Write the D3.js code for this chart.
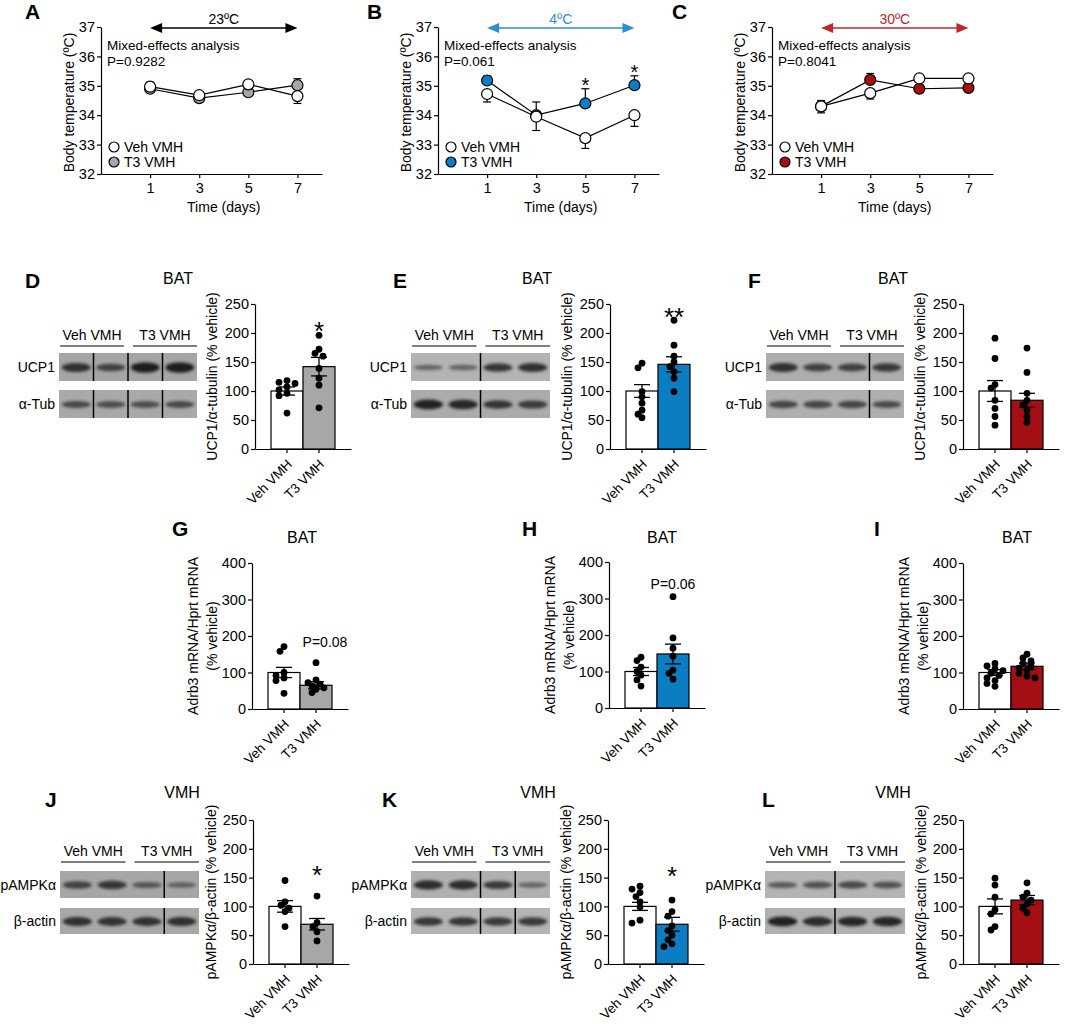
<!DOCTYPE html>
<html><head><meta charset="utf-8">
<script src="https://cdn.jsdelivr.net/npm/d3@7"></script>
<style>body{margin:0;background:#fff}svg{display:block}text{font-family:"Liberation Sans",Arial,Helvetica,sans-serif}</style>
</head><body>
<svg id="c" width="1065" height="1024"></svg>
<script>
// ---------------- DATA ----------------
const days = [1, 3, 5, 7];
const groups = ["Veh VMH", "T3 VMH"];
const tempTicks = [32, 33, 34, 35, 36, 37];
const protTicks = [0, 50, 100, 150, 200, 250];
const mrnaTicks = [0, 100, 200, 300, 400];

// Body temperature (A: 23ºC, B: 4ºC, C: 30ºC)
const vehA = [34.97, 34.68, 35.05, 34.65], vehAErr = [0.15, 0.08, 0.06, 0.25];
const t3A  = [34.90, 34.58, 34.78, 35.02], t3AErr  = [0.12, 0.06, 0.07, 0.22];
const vehB = [34.72, 33.95, 33.22, 34.00], vehBErr = [0.27, 0.47, 0.35, 0.38];
const t3B  = [35.18, 34.00, 34.40, 35.02], t3BErr  = [0.15, 0.45, 0.50, 0.32];
const vehC = [34.30, 34.75, 35.25, 35.25], vehCErr = [0.22, 0.20, 0.05, 0.05];
const t3C  = [34.30, 35.20, 34.90, 34.93], t3CErr  = [0.20, 0.22, 0.12, 0.10];

// UCP1/α-tubulin (% vehicle)
const vehD = [118, 115, 113, 107, 102, 96, 92, 62],  t3D = [196, 172, 165, 160, 139, 122, 110, 71];
const vehE = [148, 140, 99, 90, 79, 67, 60, 54],     t3E = [222, 179, 160, 150, 142, 133, 122, 99];
const vehF = [191, 156, 111, 105, 84, 70, 56, 41],   t3F = [174, 132, 96, 84, 76, 67, 56, 46];
const meanD = [100, 142], semD = [7, 16];
const meanE = [100, 146], semE = [11, 13];
const meanF = [100, 84],  semF = [18, 12];

// Adrb3 mRNA/Hprt mRNA (% vehicle)
const vehG = [171, 158, 100, 92, 85, 78, 43],        t3G = [127, 80, 72, 68, 63, 58, 54, 45];
const vehH = [139, 130, 112, 100, 90, 77, 60],       t3H = [305, 192, 164, 142, 104, 95, 79];
const vehI = [125, 118, 110, 105, 98, 92, 85, 78, 70, 62], t3I = [150, 140, 132, 125, 118, 112, 105, 98, 90, 85];
const meanG = [100, 65],  semG = [14, 10];
const meanH = [100, 148], semH = [11, 27];
const meanI = [100, 117], semI = [8, 9];

// pAMPKα/β-actin (% vehicle)
const vehJ = [145, 108, 102, 97, 91, 65],            t3J = [118, 72, 65, 56, 40];
const vehK = [135, 130, 124, 117, 108, 99, 76, 71],  t3K = [111, 91, 83, 66, 58, 50, 42, 35, 30];
const vehL = [149, 137, 116, 94, 87, 65, 59],        t3L = [141, 123, 116, 111, 104, 97, 89];
const meanJ = [100, 69],  semJ = [10, 10];
const meanK = [100, 69],  semK = [7, 12];
const meanL = [100, 111], semL = [13, 8];

// Western blot band intensities (4 lanes: Veh, Veh, T3, T3)
const bandsD_UCP1 = [0.80, 0.62, 1.00, 1.00], bandsD_Tub = [0.55, 0.50, 0.50, 0.55];
const bandsE_UCP1 = [0.30, 0.32, 0.75, 0.80], bandsE_Tub = [0.95, 0.90, 0.75, 0.70];
const bandsF_UCP1 = [0.80, 0.65, 0.65, 0.72], bandsF_Tub = [0.60, 0.60, 0.60, 0.55];
const bandsJ_AMPK = [0.62, 0.72, 0.42, 0.32], bandsJ_Act = [0.80, 0.78, 0.78, 0.80];
const bandsK_AMPK = [0.85, 0.85, 0.70, 0.30], bandsK_Act = [0.75, 0.75, 0.72, 0.72];
const bandsL_AMPK = [0.42, 0.50, 0.58, 0.50], bandsL_Act = [0.95, 0.85, 0.90, 0.90];

// ---------------- DRAWING ----------------
const FONT = '"Liberation Sans", Arial, Helvetica, sans-serif';
const GRAY = "#a7a7a9", BLUE = "#0b7dc2", RED = "#a30f12";
const TICK_FS = 14.5, LAB_FS = 14;
const svg = d3.select("#c");
const defs = svg.append("defs");
defs.append("filter").attr("id", "blur").attr("x", "-30%").attr("y", "-100%").attr("width", "160%").attr("height", "300%")
  .append("feGaussianBlur").attr("stdDeviation", 1.4);

function txt(g, x, y, s, size, o = {}) {
  const t = g.append("text").attr("x", x).attr("y", y).text(s).attr("font-size", size)
    .attr("fill", o.fill || "#000").attr("font-family", FONT);
  if (o.anchor) t.attr("text-anchor", o.anchor);
  if (o.weight) t.attr("font-weight", o.weight);
  if (o.transform) t.attr("transform", o.transform);
  return t;
}
function styleAxis(sel, fs) {
  sel.attr("font-family", FONT);
  sel.selectAll("text").attr("font-size", fs).attr("fill", "#000");
  sel.selectAll("path,line").attr("stroke", "#000").attr("stroke-width", 1.2);
}
const intFmt = d3.format("d");

function lineChart(c) {
  const g = svg.append("g");
  const x = d3.scaleLinear().domain([-1, 8]).range([c.ax, c.ax + 221]);
  const y = d3.scaleLinear().domain([32, 37]).range([174, 27]);
  g.append("g").attr("transform", `translate(${c.ax},0)`)
    .call(d3.axisLeft(y).tickValues(tempTicks).tickFormat(intFmt).tickSize(4).tickSizeOuter(0).tickPadding(2))
    .call(s => styleAxis(s, TICK_FS));
  g.append("g").attr("transform", `translate(0,${y(32)})`)
    .call(d3.axisBottom(x).tickValues(days).tickFormat(intFmt).tickSize(4).tickSizeOuter(0).tickPadding(5))
    .call(s => styleAxis(s, TICK_FS));
  txt(g, x(4), 212, "Time (days)", LAB_FS, { anchor: "middle" });
  txt(g, 0, 0, "Body temperature (ºC)", LAB_FS, { anchor: "middle", transform: `translate(${c.ax - 27},${(y(37) + y(32)) / 2 + 2}) rotate(-90)` });
  txt(g, c.letterX, 19, c.letter, 21, { weight: "bold" });
  // arrow
  const ay = 28, x1 = x(1), x7 = x(7);
  g.append("line").attr("x1", x1 + 8).attr("x2", x7 - 8).attr("y1", ay).attr("y2", ay).attr("stroke", c.color).attr("stroke-width", 1.5);
  g.append("path").attr("d", `M${x1},${ay} L${x1 + 12},${ay - 5} L${x1 + 12},${ay + 5} Z`).attr("fill", c.color);
  g.append("path").attr("d", `M${x7},${ay} L${x7 - 12},${ay - 5} L${x7 - 12},${ay + 5} Z`).attr("fill", c.color);
  txt(g, (x1 + x7) / 2, 24, c.temp, 14, { anchor: "middle", fill: c.color });
  txt(g, c.ax + 6, 50, "Mixed-effects analysis", 13.5);
  txt(g, c.ax + 6, 66, c.p, 13.5);
  // legend
  [["Veh VMH", "#fff", 147], ["T3 VMH", c.fill, 162]].forEach(([lab, f, ly]) => {
    g.append("circle").attr("cx", c.ax + 13).attr("cy", ly).attr("r", 5).attr("fill", f).attr("stroke", "#000").attr("stroke-width", 1.2);
    txt(g, c.ax + 23, ly + 5, lab, 14);
  });
  const line = d3.line().x((d, i) => x(days[i])).y(d => y(d));
  [c.t3, c.veh].forEach(s => g.append("path").attr("d", line(s)).attr("fill", "none").attr("stroke", "#000").attr("stroke-width", 1.2));
  // error bars: higher series up, lower series down
  const ser = [{ v: c.t3, e: c.t3Err, o: c.veh, f: c.fill, up: (a, b) => a >= b }, { v: c.veh, e: c.vehErr, o: c.t3, f: "#fff", up: (a, b) => a > b }];
  ser.forEach(s => s.v.forEach((v, i) => {
    const dir = s.up(v, s.o[i]) ? 1 : -1;
    const ye = y(v + dir * s.e[i]);
    g.append("line").attr("x1", x(days[i])).attr("x2", x(days[i])).attr("y1", y(v)).attr("y2", ye).attr("stroke", "#000").attr("stroke-width", 1.2);
    g.append("line").attr("x1", x(days[i]) - 4).attr("x2", x(days[i]) + 4).attr("y1", ye).attr("y2", ye).attr("stroke", "#000").attr("stroke-width", 1.2);
  }));
  ser.forEach(s => s.v.forEach((v, i) => {
    g.append("circle").attr("cx", x(days[i])).attr("cy", y(v)).attr("r", 5.5).attr("fill", s.f).attr("stroke", "#000").attr("stroke-width", 1.2);
  }));
  (c.stars || []).forEach(i => {
    txt(g, x(days[i]), y(c.t3[i] + c.t3Err[i]) + 3, "*", 20, { anchor: "middle" });
  });
}

function barChart(c) {
  const g = svg.append("g");
  const x = d3.scaleBand().domain(groups).range([c.ax, c.ax + 96]).paddingInner(0).paddingOuter(0.5);
  const y = d3.scaleLinear().domain([0, c.max]).range([c.y0, c.yTop]);
  const fills = ["#fff", c.color], pts = [c.veh, c.t3];
  groups.forEach((gn, i) => {
    g.append("rect").attr("x", x(gn)).attr("width", x.bandwidth()).attr("y", y(c.mean[i])).attr("height", y(0) - y(c.mean[i]))
      .attr("fill", fills[i]).attr("stroke", "#000").attr("stroke-width", 1.2);
  });
  groups.forEach((gn, i) => {
    const cx = x(gn) + x.bandwidth() / 2, placed = [];
    pts[i].slice().sort((a, b) => b - a).forEach(v => {
      const cy = y(v); let dx = 0;
      for (const o of [0, -4, 4, -8, 8, -11, 11]) {
        if (placed.every(p => Math.hypot(p[0] - o, p[1] - cy) >= 5)) { dx = o; break; }
      }
      placed.push([dx, cy]);
      g.append("circle").attr("cx", cx + dx).attr("cy", cy).attr("r", 3.4).attr("fill", "#000");
    });
    const lo = y(c.mean[i] - c.sem[i]), hi = y(c.mean[i] + c.sem[i]);
    g.append("line").attr("x1", cx).attr("x2", cx).attr("y1", lo).attr("y2", hi).attr("stroke", "#000").attr("stroke-width", 1.3);
    [lo, hi].forEach(yy => g.append("line").attr("x1", cx - 8).attr("x2", cx + 8).attr("y1", yy).attr("y2", yy).attr("stroke", "#000").attr("stroke-width", 1.3));
  });
  g.append("g").attr("transform", `translate(${c.ax},0)`)
    .call(d3.axisLeft(y).tickValues(c.ticks).tickFormat(intFmt).tickSize(4).tickSizeOuter(0).tickPadding(2))
    .call(s => styleAxis(s, TICK_FS));
  g.append("g").attr("transform", `translate(0,${y(0)})`)
    .call(d3.axisBottom(x).tickSize(4).tickSizeOuter(0).tickFormat(""))
    .call(s => styleAxis(s, TICK_FS));
  groups.forEach(gn => {
    const cx = x(gn) + x.bandwidth() / 2;
    txt(g, 0, 0, gn, 13.5, { anchor: "end", transform: `translate(${cx + 6},${y(0) + 16}) rotate(-45)` });
  });
  const ym = (y(0) + y(c.max)) / 2;
  c.yLabel.forEach((l, k) => txt(g, 0, 0, l, LAB_FS, { anchor: "middle", transform: `translate(${c.ax + c.yLabelX[k]},${ym}) rotate(-90)` }));
  txt(g, c.titleX, c.titleY, c.title, 16, { anchor: "middle" });
  txt(g, c.letterX, c.letterY, c.letter, 21, { weight: "bold" });
  const t3x = x(groups[1]) + x.bandwidth() / 2;
  if (c.star) txt(g, t3x, y(c.starVal) + 17, c.star, 26, { anchor: "middle" });
  if (c.p) txt(g, t3x + (c.pDx || 0), y(c.pVal) + 5, c.p, 14, { anchor: "middle" });
}

function blot(c) {
  const g = svg.append("g");
  const lanes = d3.scaleBand().domain([0, 1, 2, 3]).range([c.x, c.x + c.w]);
  const lw = lanes.bandwidth();
  c.rows.forEach(r => {
    g.append("rect").attr("x", c.x).attr("y", r.y).attr("width", c.w).attr("height", r.h).attr("fill", r.bg);
    r.bands.forEach((v, i) => {
      g.append("ellipse").attr("cx", lanes(i) + lw / 2).attr("cy", r.y + r.h / 2 + 0.5)
        .attr("rx", lw * 0.42).attr("ry", 1.6 + 3.6 * v)
        .attr("fill", "#151515").attr("opacity", 0.3 + 0.65 * v).attr("filter", "url(#blur)");
    });
    c.splits.forEach(k => g.append("line").attr("x1", lanes(k)).attr("x2", lanes(k)).attr("y1", r.y).attr("y2", r.y + r.h)
      .attr("stroke", "#000").attr("stroke-width", 1.5));
    txt(g, c.x - 4, r.y + r.h / 2 + 5, r.label, 14, { anchor: "end" });
  });
  const ul = [[c.x + 1, lanes(2) - 4], [lanes(2) + 5, c.x + c.w]];
  ul.forEach(([a, b], k) => {
    g.append("line").attr("x1", a).attr("x2", b).attr("y1", c.ulY).attr("y2", c.ulY).attr("stroke", "#000").attr("stroke-width", 1.2);
    txt(g, (a + b) / 2, c.ulY - 6, groups[k], 14, { anchor: "middle" });
  });
}

// ---- Row 1: body temperature ----
lineChart({ ax: 101, letter: "A", letterX: 25, temp: "23ºC", color: "#000", fill: GRAY, p: "P=0.9282", veh: vehA, vehErr: vehAErr, t3: t3A, t3Err: t3AErr });
lineChart({ ax: 438, letter: "B", letterX: 367, temp: "4ºC", color: "#2b90d3", fill: BLUE, p: "P=0.061", veh: vehB, vehErr: vehBErr, t3: t3B, t3Err: t3BErr, stars: [2, 3] });
lineChart({ ax: 772, letter: "C", letterX: 672, temp: "30ºC", color: "#c1262b", fill: RED, p: "P=0.8041", veh: vehC, vehErr: vehCErr, t3: t3C, t3Err: t3CErr });

// ---- Row 2: UCP1 blots ----
blot({ x: 59, w: 138, ulY: 346, splits: [1, 2, 3], rows: [{ label: "UCP1", y: 353, h: 28, bands: bandsD_UCP1, bg: "#a5a5a5" }, { label: "α-Tub", y: 390, h: 28, bands: bandsD_Tub, bg: "#a9a9a9" }] });
blot({ x: 411, w: 139, ulY: 346, splits: [2], rows: [{ label: "UCP1", y: 353, h: 28, bands: bandsE_UCP1, bg: "#b3b3b3" }, { label: "α-Tub", y: 390, h: 28, bands: bandsE_Tub, bg: "#ababab" }] });
blot({ x: 766, w: 138, ulY: 346, splits: [3], rows: [{ label: "UCP1", y: 353, h: 28, bands: bandsF_UCP1, bg: "#adadad" }, { label: "α-Tub", y: 390, h: 28, bands: bandsF_Tub, bg: "#afafaf" }] });
const ucpLab = ["UCP1/α-tubulin (% vehicle)"];
barChart({ ax: 255, y0: 449, yTop: 304, max: 250, ticks: protTicks, color: GRAY, veh: vehD, t3: t3D, mean: meanD, sem: semD, yLabel: ucpLab, yLabelX: [-38], title: "BAT", titleX: 178, titleY: 284, letter: "D", letterX: 25, letterY: 288, star: "*", starVal: 218 });
barChart({ ax: 610, y0: 449, yTop: 304, max: 250, ticks: protTicks, color: BLUE, veh: vehE, t3: t3E, mean: meanE, sem: semE, yLabel: ucpLab, yLabelX: [-38], title: "BAT", titleX: 537, titleY: 284, letter: "E", letterX: 393, letterY: 288, star: "**", starVal: 242 });
barChart({ ax: 963, y0: 449, yTop: 304, max: 250, ticks: protTicks, color: RED, veh: vehF, t3: t3F, mean: meanF, sem: semF, yLabel: ucpLab, yLabelX: [-38], title: "BAT", titleX: 893, titleY: 284, letter: "F", letterX: 748, letterY: 288 });

// ---- Row 3: Adrb3 mRNA ----
const mrnaLab = ["Adrb3 mRNA/Hprt mRNA", "(% vehicle)"];
barChart({ ax: 252, y0: 709, yTop: 563, max: 400, ticks: mrnaTicks, color: GRAY, veh: vehG, t3: t3G, mean: meanG, sem: semG, yLabel: mrnaLab, yLabelX: [-54, -35], title: "BAT", titleX: 302, titleY: 543, letter: "G", letterX: 172, letterY: 536, p: "P=0.08", pVal: 183, pDx: 9 });
barChart({ ax: 609, y0: 708, yTop: 562, max: 400, ticks: mrnaTicks, color: BLUE, veh: vehH, t3: t3H, mean: meanH, sem: semH, yLabel: mrnaLab, yLabelX: [-54, -35], title: "BAT", titleX: 662, titleY: 543, letter: "H", letterX: 522, letterY: 536, p: "P=0.06", pVal: 340 });
barChart({ ax: 963, y0: 709, yTop: 563, max: 400, ticks: mrnaTicks, color: RED, veh: vehI, t3: t3I, mean: meanI, sem: semI, yLabel: mrnaLab, yLabelX: [-54, -35], title: "BAT", titleX: 1017, titleY: 543, letter: "I", letterX: 874, letterY: 536 });

// ---- Row 4: pAMPKα blots ----
blot({ x: 60, w: 139, ulY: 862, splits: [3], rows: [{ label: "pAMPKα", y: 871, h: 27, bands: bandsJ_AMPK, bg: "#a6a6a6" }, { label: "β-actin", y: 908, h: 26, bands: bandsJ_Act, bg: "#a8a8a8" }] });
blot({ x: 411, w: 139, ulY: 862, splits: [2, 3], rows: [{ label: "pAMPKα", y: 871, h: 27, bands: bandsK_AMPK, bg: "#b0b0b0" }, { label: "β-actin", y: 908, h: 26, bands: bandsK_Act, bg: "#b4b4b4" }] });
blot({ x: 765, w: 140, ulY: 862, splits: [2], rows: [{ label: "pAMPKα", y: 871, h: 27, bands: bandsL_AMPK, bg: "#b4b4b4" }, { label: "β-actin", y: 908, h: 26, bands: bandsL_Act, bg: "#b0b0b0" }] });
const ampkLab = ["pAMPKα/β-actin (% vehicle)"];
barChart({ ax: 253, y0: 964, yTop: 820, max: 250, ticks: protTicks, color: GRAY, veh: vehJ, t3: t3J, mean: meanJ, sem: semJ, yLabel: ampkLab, yLabelX: [-37], title: "VMH", titleX: 182, titleY: 798, letter: "J", letterX: 45, letterY: 807, star: "*", starVal: 169 });
barChart({ ax: 608, y0: 964, yTop: 820, max: 250, ticks: protTicks, color: BLUE, veh: vehK, t3: t3K, mean: meanK, sem: semK, yLabel: ampkLab, yLabelX: [-37], title: "VMH", titleX: 538, titleY: 798, letter: "K", letterX: 382, letterY: 807, star: "*", starVal: 166 });
barChart({ ax: 963, y0: 964, yTop: 820, max: 250, ticks: protTicks, color: RED, veh: vehL, t3: t3L, mean: meanL, sem: semL, yLabel: ampkLab, yLabelX: [-37], title: "VMH", titleX: 893, titleY: 798, letter: "L", letterX: 762, letterY: 807 });
</script>
</body></html>
